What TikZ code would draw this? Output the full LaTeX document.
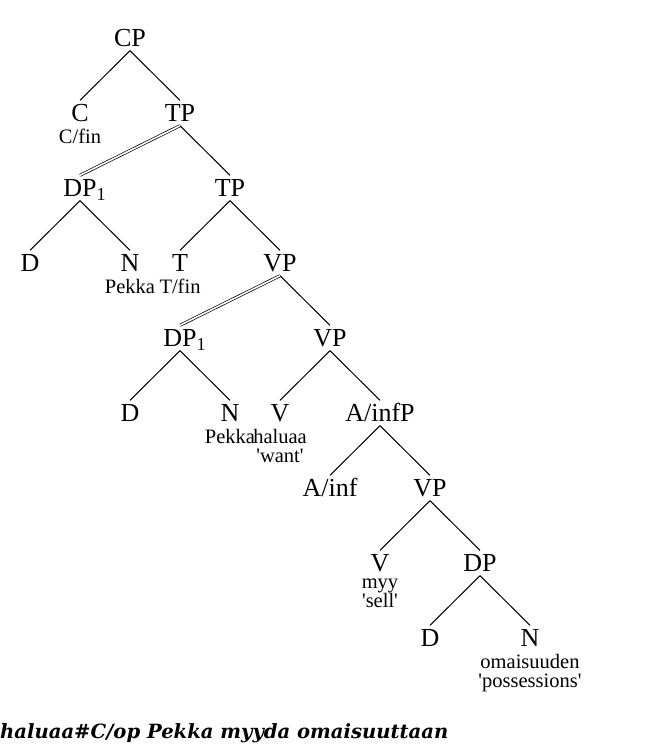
\documentclass[tikz,border=0pt]{standalone}
\usepackage{fontspec}
\setmainfont{Liberation Serif}
\newfontfamily\sentfont{DejaVu Serif}
\usetikzlibrary{positioning}

\begin{document}
\begin{tikzpicture}[x=1pt,y=1pt,node distance=75pt and 50pt]
  \useasboundingbox (0,0) rectangle (650,-750);
  \tikzset{
    cat/.style={on grid, font=\fontsize{26}{26}\selectfont, inner xsep=1pt, inner ysep=4pt, text height=17pt, text depth=0pt},
    gloss/.style={font=\fontsize{20.5}{19}\selectfont, inner sep=0pt, align=center},
    % edge styles
    branch/.style={line width=1pt},
    move/.style={double, double distance=1.6pt, line width=0.7pt},
    % sentence style
    sentence/.style={font=\sentfont\bfseries\itshape\fontsize{19.6}{20}\selectfont, inner sep=0pt, anchor=base west}
  }

  %%% CP layer

  \node[cat] (cp) at (130,-38) {CP};
  \node[cat] (c) [below left=of cp] {C};
  \node[gloss] (cfin) [below=3pt of c] {C/fin};
  \node[cat] (tp1) [below right=of cp] {TP};

  \draw[branch] (cp.south) -- (c.north);
  \draw[branch] (cp.south) -- (tp1.north);

  %%% TP layer

  \node[cat] (dp1) [below left=75pt and 100pt of tp1] {DP\rlap{\textsubscript{1}}};
  \node[cat] (tp2) [below right=of tp1] {TP};
  \node[cat] (d1) [below left=of dp1] {D};
  \node[cat] (n1) [below right=of dp1] {N};
  \node[gloss] (pekka1) [below=3pt of n1] {Pekka};
  \node[cat] (t) [below left=of tp2] {T};
  \node[gloss] (tfin) [below=3pt of t] {T/fin};
  \node[cat] (vp1) [below right=of tp2] {VP};

  \draw[move] (tp1.south) -- (dp1.north);
  \draw[branch] (tp1.south) -- (tp2.north);
  \draw[branch] (dp1.south) -- (d1.north);
  \draw[branch] (dp1.south) -- (n1.north);
  \draw[branch] (tp2.south) -- (t.north);
  \draw[branch] (tp2.south) -- (vp1.north);

  %%% upper VP layer

  \node[cat] (dp2) [below left=75pt and 100pt of vp1] {DP\rlap{\textsubscript{1}}};
  \node[cat] (vp2) [below right=of vp1] {VP};
  \node[cat] (d2) [below left=of dp2] {D};
  \node[cat] (n2) [below right=of dp2] {N};
  \node[gloss] (pekka2) [below=3pt of n2] {Pekka};
  \node[cat] (v1) [below left=of vp2] {V};
  \node[gloss] (haluaa) [below=3pt of v1] {haluaa\\\textquotesingle want\textquotesingle};
  \node[cat] (ainfp) [below right=of vp2] {A/infP};

  \draw[move] (vp1.south) -- (dp2.north);
  \draw[branch] (vp1.south) -- (vp2.north);
  \draw[branch] (dp2.south) -- (d2.north);
  \draw[branch] (dp2.south) -- (n2.north);
  \draw[branch] (vp2.south) -- (v1.north);
  \draw[branch] (vp2.south) -- (ainfp.north);

  %%% infinitival layer

  \node[cat] (ainf) [below left=of ainfp] {A/inf};
  \node[cat] (vp3) [below right=of ainfp] {VP};
  \node[cat] (v2) [below left=of vp3] {V};
  \node[gloss] (myy) [below=3pt of v2] {myy\\\textquotesingle sell\textquotesingle};
  \node[cat] (dp3) [below right=of vp3] {DP};
  \node[cat] (d3) [below left=of dp3] {D};
  \node[cat] (n3) [below right=of dp3] {N};
  \node[gloss] (omaisuuden) [below=3pt of n3] {omaisuuden\\\textquotesingle possessions\textquotesingle};

  \draw[branch] (ainfp.south) -- (ainf.north);
  \draw[branch] (ainfp.south) -- (vp3.north);
  \draw[branch] (vp3.south) -- (v2.north);
  \draw[branch] (vp3.south) -- (dp3.north);
  \draw[branch] (dp3.south) -- (d3.north);
  \draw[branch] (dp3.south) -- (n3.north);

  % Sentence
  \node[sentence] (sent) at (0,-738) {haluaa\#C/op Pekka myyda omaisuuttaan};

\end{tikzpicture}
\end{document}
